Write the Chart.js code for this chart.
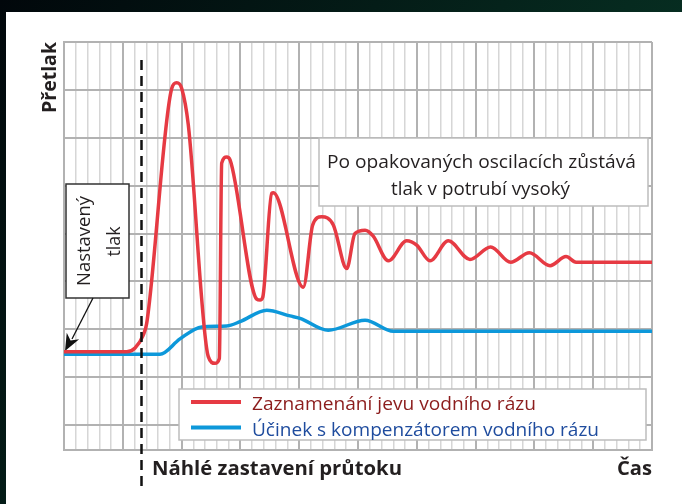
<!DOCTYPE html>
<html lang="cs">
<head>
<meta charset="utf-8">
<title>Vodní ráz</title>
<script src="https://cdn.jsdelivr.net/npm/chart.js@4.4.0/dist/chart.umd.min.js"></script>
<style>
  html, body { margin: 0; padding: 0; background: #000; }
  canvas { display: block; }
</style>
</head>
<body>
<canvas id="graf" width="682" height="504"></canvas>
<script>
// data (osa x: čas 0..50, osa y: přetlak, mřížka po 1)
const redX = [0, 5.33, 6.04, 6.74, 7.03, 9.16, 9.58, 10.01, 10.57, 12.27, 12.84, 13.21, 13.41, 13.84, 14.12,
  16.39, 16.67, 16.90, 17.66, 17.80, 20.35, 21.15, 21.91, 22.90, 24.04, 24.74, 25.60, 26.28, 27.58,
  29.14, 29.99, 31.12, 32.68, 34.52, 36.28, 37.98, 39.57, 41.33, 42.69, 43.54, 50]
const redY = [1.53, 1.53, 1.61, 1.88, 2.12, 7.03, 7.15, 7.03, 6.27, 1.43, 1.29, 1.39, 5.47, 5.60, 5.54,
  2.63, 2.61, 2.67, 4.84, 4.85, 2.88, 4.18, 4.35, 4.18, 3.27, 4.00, 4.07, 3.95, 3.43,
  3.85, 3.76, 3.43, 3.85, 3.46, 3.72, 3.40, 3.60, 3.33, 3.52, 3.40, 3.40]

const blueX = [0, 8.16, 9.86, 11.71, 13.84, 14.97, 17.24, 19.22, 20.07, 22.47, 25.60, 28.0, 50]
const blueY = [1.48, 1.48, 1.80, 2.05, 2.07, 2.16, 2.40, 2.28, 2.23, 1.98, 2.19, 1.96, 1.96]

const seriesLabels = ['Zaznamenání jevu vodního rázu', 'Účinek s kompenzátorem vodního rázu']
const seriesColors = ['#e63a43', '#0d98da']
const legendTextColors = ['#8c1d1d', '#1f4c9e']

const yTicks = [0, 1, 2, 3, 4, 5, 6, 7, 8]
const stopX = 6.55   // Náhlé zastavení průtoku

const axisTitleY = 'Přetlak'
const axisTitleX = 'Čas'
const stopLabel = 'Náhlé zastavení průtoku'
const noteLines = ['Po opakovaných oscilacích zůstává', 'tlak v potrubí vysoký']
const setLines = ['Nastavený', 'tlak']

const toPoints = (xs, ys) => xs.map((x, i) => ({ x: x, y: ys[i] }))

// text natažený/stlačený na danou šířku (původní písmo je užší)
const drawText = (ctx, text, x, y, opts) => {
    ctx.save()
    ctx.font = `${opts.weight || 'normal'} ${opts.size}px "Open Sans", "Noto Sans", sans-serif`
    ctx.fillStyle = opts.color || '#231f20'
    ctx.textAlign = opts.align || 'left'
    ctx.textBaseline = 'alphabetic'
    ctx.translate(x, y)
    if (opts.rotate) ctx.rotate(opts.rotate)
    if (opts.width) {
        const m = ctx.measureText(text).width
        ctx.scale(opts.width / m, 1)
    }
    ctx.fillText(text, 0, 0)
    ctx.restore()
}

const pozadi = {
    id: 'pozadi',
    beforeDraw(chart) {
        const ctx = chart.ctx
        const g = ctx.createLinearGradient(0, 0, 682, 504)
        g.addColorStop(0, '#01070b')
        g.addColorStop(0.6, '#062a1f')
        g.addColorStop(1, '#0b3d2b')
        ctx.save()
        ctx.fillStyle = g
        ctx.fillRect(0, 0, chart.width, chart.height)
        ctx.fillStyle = '#ffffff'
        ctx.fillRect(6, 12, chart.width - 6, chart.height - 12)
        ctx.restore()
    }
}

const popisky = {
    id: 'popisky',
    beforeDatasetsDraw(chart) {
        const ctx = chart.ctx
        const xs = chart.scales.x
        ctx.save()
        // rámeček s poznámkou
        ctx.fillStyle = '#fff'
        ctx.strokeStyle = '#bdbdbd'
        ctx.lineWidth = 1.5
        ctx.fillRect(319, 138, 329, 68)
        ctx.strokeRect(319, 138, 329, 68)
        // legenda
        ctx.fillRect(179, 389, 467, 51)
        ctx.strokeRect(179, 389, 467, 51)
        // nastavený tlak
        ctx.strokeStyle = '#333'
        ctx.fillRect(66, 184, 63, 114)
        ctx.strokeRect(66, 184, 63, 114)
        ctx.restore()

        drawText(ctx, noteLines[0], 481.5, 168, { size: 18, width: 309, align: 'center' })
        drawText(ctx, noteLines[1], 480.5, 195, { size: 18, width: 179, align: 'center' })
        drawText(ctx, setLines[0], 90, 241, { size: 18, width: 90, align: 'center', rotate: -Math.PI / 2 })
        drawText(ctx, setLines[1], 120, 241.5, { size: 18, width: 30, align: 'center', rotate: -Math.PI / 2 })

        // legenda
        chart.data.datasets.forEach((ds, i) => {
            const y = 402 + i * 25.5
            ctx.save()
            ctx.strokeStyle = ds.borderColor
            ctx.lineWidth = 4
            ctx.beginPath()
            ctx.moveTo(191, y)
            ctx.lineTo(241, y)
            ctx.stroke()
            ctx.restore()
            drawText(ctx, ds.label, 252, y + 8, { size: 18, width: i === 0 ? 284 : 347, color: legendTextColors[i] })
        })

        // šipka
        ctx.save()
        ctx.strokeStyle = '#111'
        ctx.fillStyle = '#111'
        ctx.lineWidth = 1.3
        ctx.beginPath()
        ctx.moveTo(93, 298)
        ctx.lineTo(72, 339)
        ctx.stroke()
        const tipX = 65, tipY = 351
        const ang = Math.atan2(298 - tipY, 93 - tipX)
        const L = 17, W = 7
        const bx = tipX + Math.cos(ang) * L, by = tipY + Math.sin(ang) * L
        const nx = -Math.sin(ang) * W, ny = Math.cos(ang) * W
        const mx = tipX + Math.cos(ang) * L * 0.7, my = tipY + Math.sin(ang) * L * 0.7
        ctx.beginPath()
        ctx.moveTo(tipX, tipY)
        ctx.lineTo(bx + nx, by + ny)
        ctx.lineTo(mx, my)
        ctx.lineTo(bx - nx, by - ny)
        ctx.closePath()
        ctx.fill()
        ctx.restore()
    },
    afterDraw(chart) {
        const ctx = chart.ctx
        const xs = chart.scales.x
        const area = chart.chartArea
        const px = Math.round(xs.getPixelForValue(stopX)) + 0.5
        ctx.save()
        ctx.strokeStyle = '#111'
        ctx.lineWidth = 2.5
        ctx.setLineDash([10, 6])
        ctx.beginPath()
        ctx.moveTo(px, 60)
        ctx.lineTo(px, 492)
        ctx.stroke()
        ctx.restore()

        drawText(ctx, axisTitleY, 55.5, 113, { size: 20, weight: 'bold', width: 71, rotate: -Math.PI / 2 })
        drawText(ctx, stopLabel, 152, 475, { size: 20, weight: 'bold', width: 250 })
        drawText(ctx, axisTitleX, area.right, 475, { size: 20, weight: 'bold', width: 35, align: 'right' })
    }
}

const crearGraf = () => {
    const ctx = document.getElementById('graf')
    new Chart(ctx, {
        type: 'line',
        data: {
            datasets: [{
                label: seriesLabels[0],
                data: toPoints(redX, redY),
                borderColor: seriesColors[0],
                borderWidth: 3.5,
                pointRadius: 0,
                cubicInterpolationMode: 'monotone',
                fill: false
            }, {
                label: seriesLabels[1],
                data: toPoints(blueX, blueY),
                borderColor: seriesColors[1],
                borderWidth: 3.5,
                pointRadius: 0,
                cubicInterpolationMode: 'monotone',
                fill: false
            }]
        },
        options: {
            responsive: false,
            animation: false,
            devicePixelRatio: 1,
            layout: { padding: { left: 64, top: 42, right: 30, bottom: 54 } },
            plugins: {
                legend: { display: false },
                tooltip: { enabled: false }
            },
            scales: {
                x: {
                    type: 'linear',
                    min: 0,
                    max: 50,
                    ticks: { stepSize: 1, display: false },
                    grid: {
                        drawTicks: false,
                        color: c => c.tick && c.tick.value % 5 === 0 ? '#b2b2b2' : '#d6d6d6',
                        lineWidth: c => c.tick && c.tick.value % 5 === 0 ? 2 : 1.5
                    },
                    border: { color: '#b2b2b2', width: 2 }
                },
                y: {
                    min: -0.52,
                    max: 8,
                    afterBuildTicks: s => { s.ticks = yTicks.map(v => ({ value: v })) },
                    ticks: { display: false },
                    grid: { drawTicks: false, color: '#b2b2b2', lineWidth: 2 },
                    border: { color: '#b2b2b2', width: 2 }
                }
            }
        },
        plugins: [pozadi, popisky]
    })
}

Promise.all([
    document.fonts.load('18px "Open Sans"'),
    document.fonts.load('bold 20px "Open Sans"')
]).then(crearGraf, crearGraf)
</script>
</body>
</html>
